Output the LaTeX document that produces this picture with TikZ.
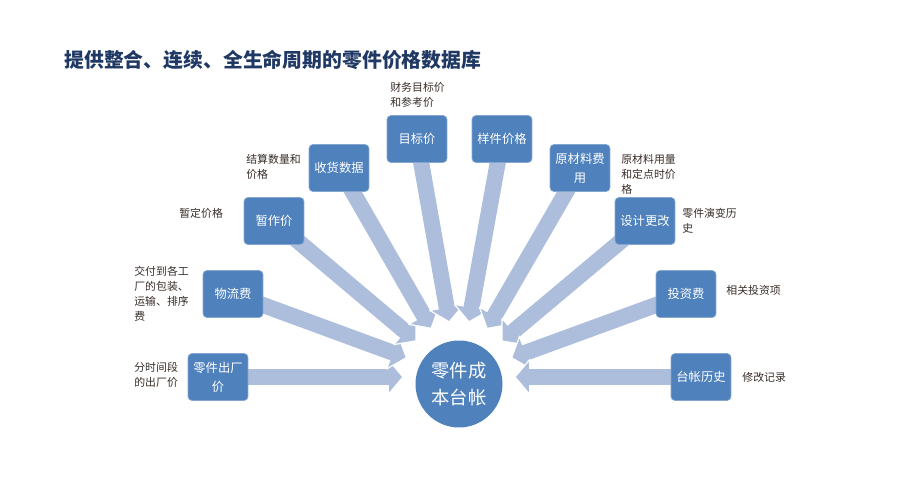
\documentclass[tikz,border=0pt]{standalone}
\usepackage{fontspec}
\setmainfont{Noto Sans CJK SC}
\usepackage{xcolor}
\usetikzlibrary{arrows.meta,backgrounds}
\definecolor{boxblue}{RGB}{79,129,189}
\definecolor{flowblue}{RGB}{173,190,221}
\definecolor{titleblue}{RGB}{31,56,100}
\definecolor{notegray}{RGB}{55,45,40}

\begin{document}
\begin{tikzpicture}[
    x=0.02cm, y=-0.02cm,
    every node/.style={inner sep=0pt},
    box/.style={rectangle, rounded corners=0.08cm, fill=boxblue,
                draw=boxblue!70!white, line width=0.4pt,
                minimum width=1.2cm, minimum height=0.94cm,
                align=center, text=white, font=\fontsize{7}{10.8}\selectfont},
    hub/.style={circle, fill=boxblue, minimum size=1.74cm, align=center,
                text=white, font=\fontsize{10.4}{15.3}\selectfont},
    note/.style={anchor=west, align=left, text=notegray,
                 font=\fontsize{6.2}{8.6}\selectfont},
    flow/.style={draw=flowblue, line width=0.32cm, shorten >=1.14cm,
                 -{Triangle[length=0.26cm,width=0.6cm]},
                 preaction={draw=white, line width=0.38cm, shorten >=1.1cm,
                            -{Triangle[length=0.32cm,width=0.72cm]}}}
]
\useasboundingbox (0,0) rectangle (900,480);

\node[anchor=west, text=titleblue, font=\fontsize{11.3}{13}\selectfont\bfseries]
    (title) at (64,60) {提供整合、连续、全生命周期的零件价格数据库};

\node[box] (price)    at (218,377) {零件出厂\\价};
\node[box] (logist)   at (233,294) {物流费};
\node[box] (interim)  at (274,221) {暂作价};
\node[box] (receipt)  at (339,168) {收货数据};
\node[box] (target)   at (417,139) {目标价};
\node[box] (sample)   at (502,139) {样件价格};
\node[box] (material) at (580,168) {原材料费\\用};
\node[box] (change)   at (645,221) {设计更改};
\node[box] (invest)   at (686,294) {投资费};
\node[box] (history)  at (701,377) {台帐历史};
\node[hub] (ledger)   at (459,384) {零件成\\本台帐};
\coordinate (aim) at (459,377);

\node[note] (priceN)    at (134,375) {分时间段\\的出厂价};
\node[note] (logistN)   at (134,294) {交付到各工\\厂的包装、\\运输、排序\\费};
\node[note] (interimN)  at (179,213) {暂定价格};
\node[note] (receiptN)  at (246,167) {结算数量和\\价格};
\node[note] (targetN)   at (390,95)  {财务目标价\\和参考价};
\node[note] (materialN) at (621,174) {原材料用量\\和定点时价\\格};
\node[note] (changeN)   at (682,221) {零件演变历\\史};
\node[note] (investN)   at (726,290) {相关投资项};
\node[note] (historyN)  at (742,377) {修改记录};

\begin{pgfonlayer}{background}
\draw[flow] (price.center)    -- (aim);
\draw[flow] (logist.center)   -- (aim);
\draw[flow] (interim.center)  -- (aim);
\draw[flow] (receipt.center)  -- (aim);
\draw[flow] (target.center)   -- (aim);
\draw[flow] (sample.center)   -- (aim);
\draw[flow] (material.center) -- (aim);
\draw[flow] (change.center)   -- (aim);
\draw[flow] (invest.center)   -- (aim);
\draw[flow] (history.center)  -- (aim);
\end{pgfonlayer}
\end{tikzpicture}
\end{document}
